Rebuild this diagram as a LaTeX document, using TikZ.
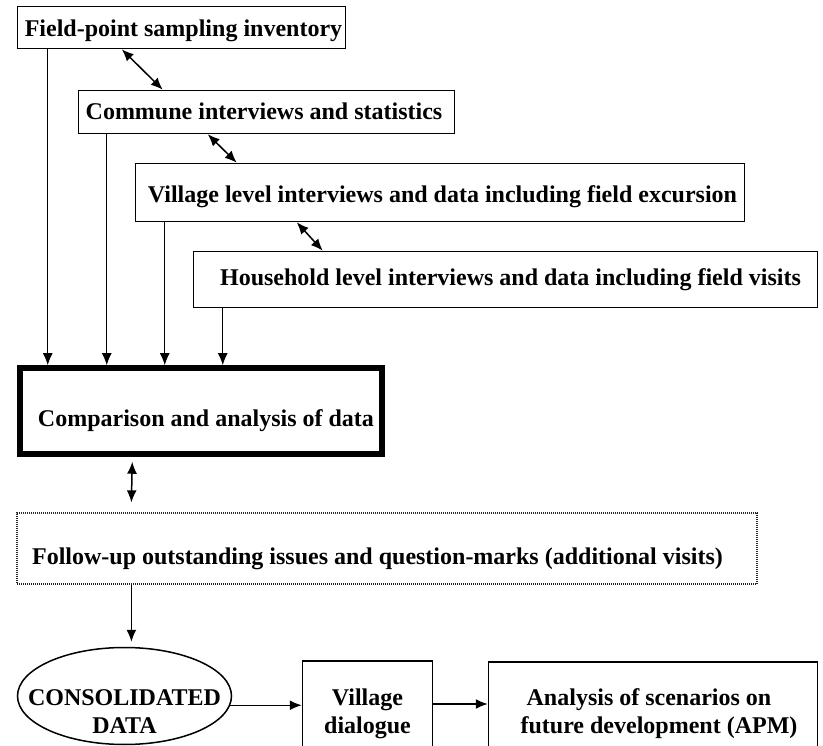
\documentclass[tikz,border=0pt]{standalone}
\usepackage{fontspec}
\setmainfont{Liberation Serif}
\usetikzlibrary{shapes.geometric,arrows.meta,calc}
\newcommand{\cbox}[2][0pt]{\makebox[0pt]{\hspace*{#1}#2}}
\newcommand{\lowr}[1]{\raisebox{-13.5pt}[0pt][0pt]{#1}}
\begin{document}
\begin{tikzpicture}[x=1pt,y=-1pt,
  txt/.style={font=\fontsize{24pt}{28pt}\selectfont\bfseries, inner sep=0pt, align=center},
  box/.style={txt, draw, rectangle, line width=1.5pt},
  arr/.style={-{Latex[length=12pt,width=10pt]}, line width=1.4pt},
  dbl/.style={{Latex[length=12pt,width=10pt]}-{Latex[length=12pt,width=10pt]}, line width=1.5pt}]
\clip (0,0) rectangle (823,746);
\fill[white] (0,0) rectangle (823,746);

\node[box, minimum width=328pt, minimum height=42pt, text height=19pt, text depth=0pt]
  (field) at (181.5,27.5) {\cbox[4pt]{Field-point sampling inventory}};
\node[box, minimum width=376pt, minimum height=43pt, text height=16pt, text depth=0pt]
  (commune) at (266.5,112) {\cbox[-5pt]{Commune interviews and statistics}};
\node[box, minimum width=609pt, minimum height=58pt, text height=21pt, text depth=0pt]
  (village) at (440,192.5) {\cbox[5pt]{Village level interviews and data including field excursion}};
\node[box, minimum width=624pt, minimum height=56pt, text height=13pt, text depth=0pt]
  (household) at (505.5,279.5) {\cbox[10pt]{Household level interviews and data including field visits}};
\node[box, line width=5.5pt, minimum width=362pt, minimum height=86pt, text height=30pt, text depth=0pt]
  (comp) at (201,411) {\cbox[10pt]{Comparison and analysis of data}};
\node[box, line width=1.2pt, draw=black!85, dash pattern=on 1pt off 1pt, minimum width=740pt, minimum height=71pt, text height=31pt, text depth=0pt]
  (follow) at (387,548.5) {\cbox[-19pt]{Follow-up outstanding issues and question-marks (additional visits)}};
\node[txt, draw, ellipse, line width=1.5pt, minimum width=214pt, minimum height=97pt, text height=47pt, text depth=0pt]
  (cons) at (124.5,696) {\cbox{\lowr{CONSOLIDATED}}\\\cbox{\lowr{DATA}}};
\node[box, minimum width=130pt, minimum height=119pt, text height=25pt, text depth=0pt]
  (vdial) at (367.5,720.5) {\cbox{Village}\\\cbox{dialogue}};
\node[box, minimum width=329pt, minimum height=118pt, text height=24pt, text depth=0pt]
  (apm) at (653,721) {\cbox[-8pt]{Analysis of scenarios on}\\\cbox[12pt]{future development (APM)}};

% vertical arrows into comparison box
\coordinate (f1) at ([xshift=31pt]field.south west);
\coordinate (c1) at ([xshift=29pt]commune.south west);
\coordinate (v1) at ([xshift=30pt]village.south west);
\coordinate (h1) at ([xshift=30pt]household.south west);
\draw[arr] (f1) -- (f1 |- comp.north);
\draw[arr] (c1) -- (c1 |- comp.north);
\draw[arr] (v1) -- (v1 |- comp.north);
\draw[arr] (h1) -- (h1 |- comp.north);

% diagonal double arrows
\draw[dbl] ([xshift=105pt]field.south west) -- ([xshift=85pt]commune.north west);
\draw[dbl] ([xshift=130pt]commune.south west) -- ([xshift=102pt]village.north west);
\draw[dbl] ([xshift=162pt]village.south west) -- ([xshift=130pt]household.north west);

% comparison <-> follow-up
\draw[dbl] ([xshift=115pt,yshift=-5pt]comp.south west) -- ([xshift=115pt,yshift=10pt]follow.north west);

% follow-up -> consolidated
\coordinate (fo1) at ([xshift=115pt]follow.south west);
\coordinate (ce) at ([yshift=5pt]cons.north);
\draw[arr] (fo1) -- (fo1 |- ce);

% bottom row
\draw[arr] (cons.-5) -- (cons.-5 -| vdial.west);
\coordinate (vd1) at ([yshift=16.5pt]vdial.east);
\draw[arr] (vd1) -- (vd1 -| apm.west);
\end{tikzpicture}
\end{document}
